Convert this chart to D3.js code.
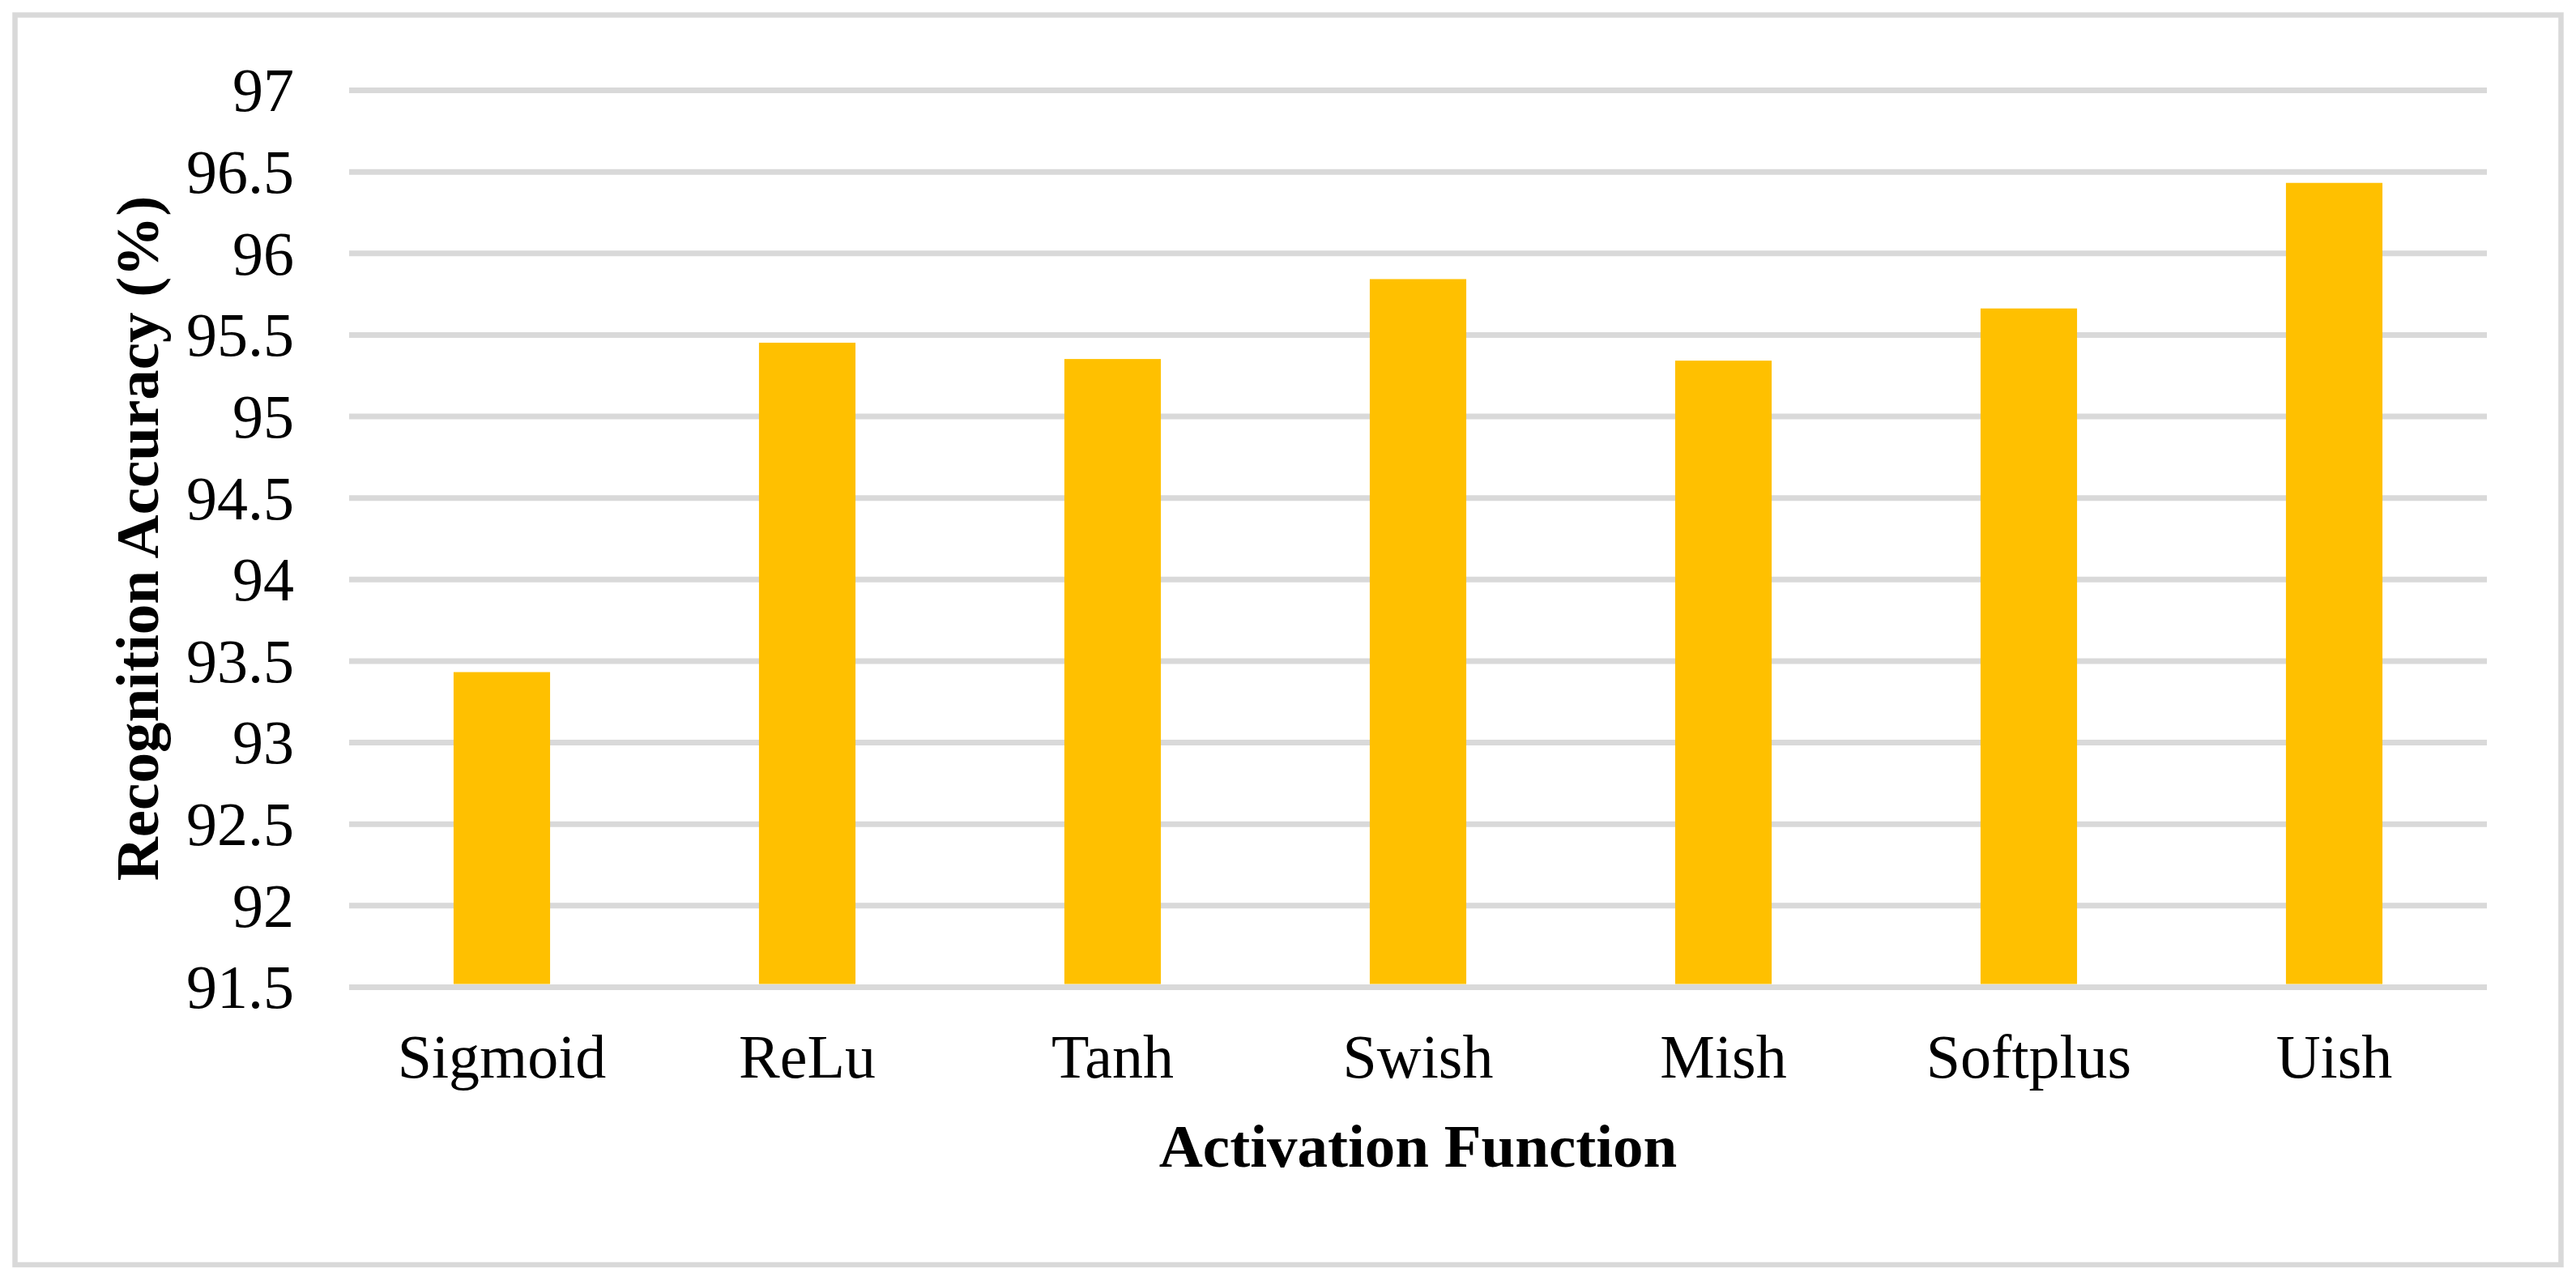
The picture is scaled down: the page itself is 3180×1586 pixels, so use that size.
<!DOCTYPE html>
<html>
<head>
<meta charset="utf-8">
<script src="https://cdn.jsdelivr.net/npm/d3@7"></script>
<style>
  html, body { margin: 0; padding: 0; background: #ffffff; }
  svg { display: block; }
  text { font-family: "Times New Roman", "Liberation Serif", serif; fill: #000; }
</style>
</head>
<body>
<script>
const categories = ["Sigmoid", "ReLu", "Tanh", "Swish", "Mish", "Softplus", "Uish"];
const accuracy = [93.43, 95.45, 95.35, 95.84, 95.34, 95.66, 96.43];
const yTicks = [91.5, 92, 92.5, 93, 93.5, 94, 94.5, 95, 95.5, 96, 96.5, 97];
const yTickLabels = ["91.5", "92", "92.5", "93", "93.5", "94", "94.5", "95", "95.5", "96", "96.5", "97"];
const xTitle = "Activation Function";
const yTitle = "Recognition Accuracy (%)";

const W = 3180, H = 1586;
const plot = { left: 431, right: 3070, top: 111, bottom: 1218 };

const svg = d3.select("body").append("svg")
  .attr("width", W).attr("height", H);

svg.append("rect").attr("width", W).attr("height", H).attr("fill", "#fff");

// outer border
svg.append("rect")
  .attr("x", 18.5).attr("y", 18.5)
  .attr("width", 3161.5 - 18.5).attr("height", 1561 - 18.5)
  .attr("fill", "none").attr("stroke", "#d9d9d9").attr("stroke-width", 6.5);

const x = d3.scaleBand()
  .domain(categories)
  .range([plot.left, plot.right])
  .paddingInner(0.684)
  .paddingOuter(0.342);

const y = d3.scaleLinear()
  .domain([91.5, 97])
  .range([plot.bottom, plot.top]);

// gridlines
const yAxis = d3.axisLeft(y)
  .tickValues(yTicks)
  .tickSize(-(plot.right - plot.left))
  .tickFormat((d, i) => yTickLabels[i]);

const gy = svg.append("g")
  .attr("transform", `translate(${plot.left},0)`)
  .call(yAxis);
gy.select(".domain").remove();
gy.selectAll(".tick line")
  .attr("stroke", "#d9d9d9").attr("stroke-width", 7);
gy.selectAll(".tick text")
  .attr("x", -68)
  .attr("dy", "0.34em")
  .attr("font-size", 76)
  .attr("font-family", "'Times New Roman', 'Liberation Serif', serif")
  .attr("fill", "#000")
  .attr("text-anchor", "end");

// bars
svg.append("g").selectAll("rect")
  .data(categories)
  .join("rect")
  .attr("x", d => x(d))
  .attr("width", x.bandwidth())
  .attr("y", (d, i) => y(accuracy[i]))
  .attr("height", (d, i) => y(91.5) - y(accuracy[i]) - 3.5)
  .attr("fill", "#ffc000");

// x axis labels
const xAxis = d3.axisBottom(x).tickSize(0);
const gx = svg.append("g")
  .attr("transform", `translate(0,${plot.bottom})`)
  .call(xAxis);
gx.select(".domain").remove();
gx.selectAll(".tick text")
  .attr("y", 0)
  .attr("dy", 0)
  .attr("transform", "translate(0,112)")
  .attr("font-size", 76)
  .attr("font-family", "'Times New Roman', 'Liberation Serif', serif")
  .attr("fill", "#000");

// axis titles
svg.append("text")
  .attr("x", (plot.left + plot.right) / 2)
  .attr("y", 1440)
  .attr("text-anchor", "middle")
  .attr("font-size", 75)
  .attr("font-weight", "bold")
  .text(xTitle);

svg.append("text")
  .attr("transform", `translate(195,${(plot.top + plot.bottom) / 2}) rotate(-90)`)
  .attr("text-anchor", "middle")
  .attr("font-size", 75)
  .attr("font-weight", "bold")
  .text(yTitle);
</script>
</body>
</html>
